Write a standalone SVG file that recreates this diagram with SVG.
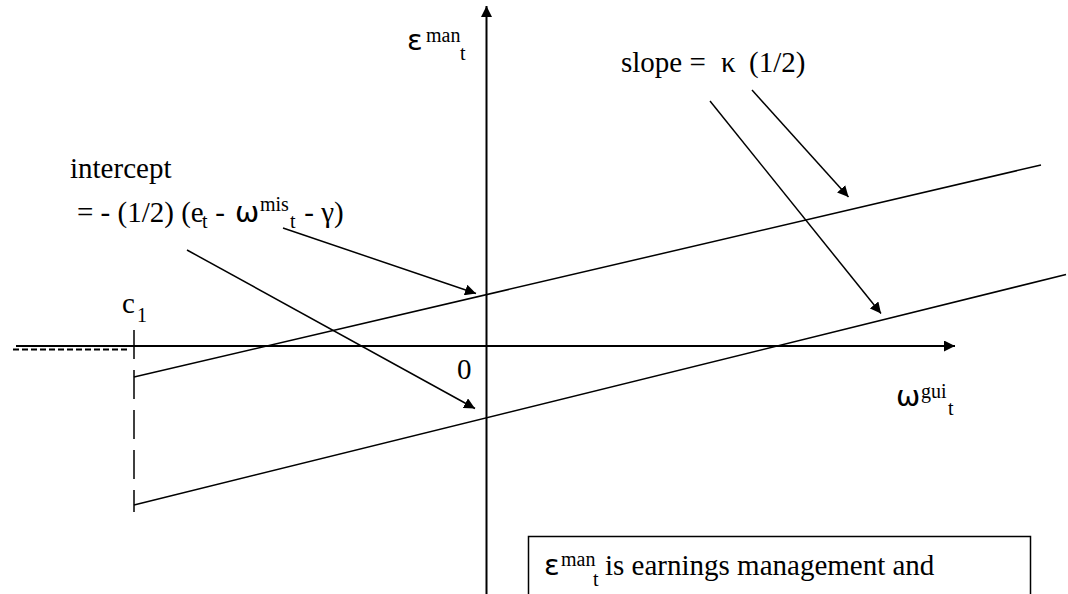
<svg xmlns="http://www.w3.org/2000/svg" width="1068" height="594" viewBox="0 0 1068 594">
<style>
text,.r{font-family:'Liberation Serif','DejaVu Serif',serif;font-size:29px;fill:#000}
.s{font-size:20px}
.g{font-family:'DejaVu Sans','Liberation Sans',sans-serif;font-size:29px}
.ln{stroke:#000;stroke-width:1.5;fill:none}
.ax{stroke:#000;stroke-width:2;fill:none}
</style>
<defs>
<marker id="ah" markerUnits="userSpaceOnUse" markerWidth="12" markerHeight="11" refX="11" refY="5.5" orient="auto">
<path d="M0,0 L11,5.5 L0,11 Z" fill="#000"/>
</marker>
</defs>
<rect width="1068" height="594" fill="#fff"/>
<g id="axes">
<line class="ax" x1="486.5" y1="594" x2="486.5" y2="6" marker-end="url(#ah)"/>
<line class="ax" x1="16" y1="346" x2="955" y2="346" marker-end="url(#ah)"/>
<line x1="13" y1="349.5" x2="129" y2="349.5" stroke="#000" stroke-width="2" stroke-dasharray="6,3"/>
<line x1="134" y1="330" x2="134" y2="512" stroke="#000" stroke-width="1.5" stroke-dasharray="29,11"/>
</g>
<g id="lines">
<line class="ln" x1="134" y1="377" x2="1041" y2="165"/>
<line class="ln" x1="134" y1="505" x2="1066" y2="274.5"/>
</g>
<g id="connectors">
<line class="ln" x1="283" y1="228" x2="476" y2="293.5" marker-end="url(#ah)"/>
<line class="ln" x1="187" y1="250" x2="475" y2="408.5" marker-end="url(#ah)"/>
<line class="ln" x1="752" y1="90" x2="848.5" y2="197" marker-end="url(#ah)"/>
<line class="ln" x1="710" y1="101" x2="881" y2="313.5" marker-end="url(#ah)"/>
</g>
<g id="label-y">
<text><tspan class="g" x="407" y="50">ε</tspan><tspan class="s" x="426" y="42">man</tspan><tspan class="s" x="460" y="60">t</tspan></text>
</g>
<g id="label-x">
<text><tspan class="g" x="896" y="406">ω</tspan><tspan class="s" x="921" y="398">gui</tspan><tspan class="s" x="948" y="415">t</tspan></text>
</g>
<g id="label-slope">
<text y="72"><tspan x="621">slope =</tspan><tspan x="721">κ</tspan><tspan x="749">(1/2)</tspan></text>
</g>
<g id="label-intercept">
<text x="70" y="178">intercept</text>
<text y="222"><tspan x="77">= - (1/2) (e</tspan><tspan class="s" x="202" y="228">t</tspan><tspan x="208" y="222"> - </tspan><tspan class="g" x="235">ω</tspan><tspan class="s" x="260" y="211">mis</tspan><tspan class="s" x="290" y="228">t</tspan><tspan x="297" y="222"> - γ)</tspan></text>
</g>
<g id="label-c1">
<text><tspan x="122" y="313">c</tspan><tspan class="s" x="137" y="322">1</tspan></text>
</g>
<g id="label-zero">
<text x="457" y="379">0</text>
</g>
<g id="note">
<rect x="528.5" y="536.5" width="502" height="80" fill="#fff" stroke="#000" stroke-width="1.5"/>
<text><tspan class="g" x="544" y="575">ε</tspan><tspan class="s" x="561" y="566">man</tspan><tspan class="s" x="593" y="586">t</tspan><tspan class="r" x="605" y="575">is earnings management and</tspan></text>
</g>
</svg>
